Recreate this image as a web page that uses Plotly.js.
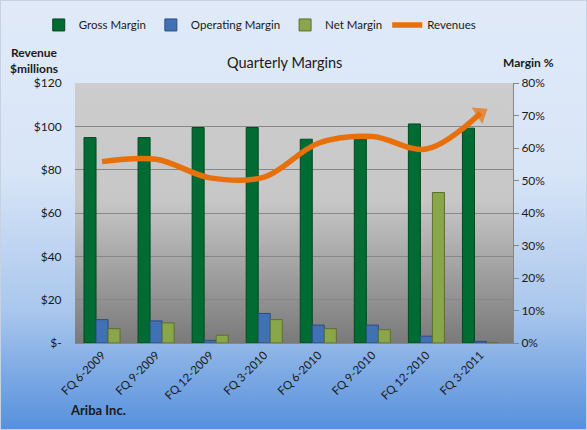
<!DOCTYPE html>
<html>
<head>
<meta charset="utf-8">
<script src="https://cdn.plot.ly/plotly-3.0.1.min.js"></script>
<style>
  html, body { margin: 0; padding: 0; }
  #wrap { position: relative; width: 587px; height: 430px;
    background: linear-gradient(to bottom, #e0eaf9 0%, #d8e5f7 40%, #aac7ed 72%, #5690dc 100%); }
  #chart { width: 587px; height: 430px; }
  #frame { position: absolute; left: 0; top: 0; width: 585px; height: 428px; border: 1px solid #c6d2e2; pointer-events: none; }
</style>
</head>
<body>
<div id="wrap"><div id="chart"></div><div id="frame"></div></div>
<script>
const quarters = ["FQ 6-2009", "FQ 9-2009", "FQ 12-2009", "FQ 3-2010", "FQ 6-2010", "FQ 9-2010", "FQ 12-2010", "FQ 3-2011"];
const grossMargin = [0.632, 0.632, 0.663, 0.663, 0.627, 0.627, 0.674, 0.661];
const operatingMargin = [0.072, 0.068, 0.008, 0.091, 0.055, 0.055, 0.021, 0.005];
const netMargin = [0.044, 0.062, 0.024, 0.072, 0.044, 0.041, 0.463, 0];
const revenues = [83.7, 84.8, 76.2, 76.6, 92.2, 95.3, 89.5, 106];
const revTickVals = [0, 20, 40, 60, 80, 100, 120];
const revTickText = ["$-", "$20", "$40", "$60", "$80", "$100", "$120"];
const marginTickVals = [0, 0.1, 0.2, 0.3, 0.4, 0.5, 0.6, 0.7, 0.8];

const FONT = "Lato, 'Open Sans', sans-serif";
const arrowSizes = revenues.map((v, i) => i === revenues.length - 1 ? 17 : 0);

const gradSvg = "<svg xmlns='http://www.w3.org/2000/svg' width='10' height='100' preserveAspectRatio='none'>" +
  "<defs><linearGradient id='g' x1='0' y1='0' x2='0' y2='1'>" +
  "<stop offset='0' stop-color='#cdcdcd'/><stop offset='0.45' stop-color='#c7c7c7'/><stop offset='1' stop-color='#7a7a7a'/>" +
  "</linearGradient></defs><rect width='10' height='100' fill='url(#g)'/></svg>";

const traces = [
  { type: "bar", name: "Gross Margin", x: quarters, y: grossMargin, yaxis: "y",
    marker: { color: "#006b33", line: { color: "#00491f", width: 1 } } },
  { type: "bar", name: "Operating Margin", x: quarters, y: operatingMargin, yaxis: "y",
    marker: { color: "#4071b5", line: { color: "#2a4d80", width: 1 } } },
  { type: "bar", name: "Net Margin", x: quarters, y: netMargin, yaxis: "y",
    marker: { color: "#8aa64a", line: { color: "#5c6f2e", width: 1 } } },
  { type: "scatter", mode: "lines+markers", name: "Revenues", x: quarters, y: revenues, yaxis: "y2",
    line: { color: "#e8700b", width: 5.5, shape: "spline", smoothing: 1 },
    marker: { symbol: "triangle-up", size: arrowSizes, color: "#e8700b", angleref: "previous", line: { width: 0 } } }
];

const layout = {
  width: 587, height: 430,
  margin: { l: 75, r: 74, t: 83, b: 87, autoexpand: false },
  paper_bgcolor: "rgba(0,0,0,0)",
  plot_bgcolor: "rgba(0,0,0,0)",
  font: { family: FONT, size: 12, color: "#1a1a1a" },
  barmode: "group", bargap: 0.333, bargroupgap: 0,
  showlegend: true,
  legend: { orientation: "h", xref: "container", yref: "container", x: 0.066, xanchor: "left", y: 0.942, yanchor: "middle",
    font: { family: FONT, size: 11.5, color: "#1a1a1a" }, bgcolor: "rgba(0,0,0,0)", traceorder: "normal" },
  title: { text: "Quarterly Margins", x: 0.485, xanchor: "center", y: 0.853, yanchor: "middle",
    font: { family: FONT, size: 14.5, color: "#1a1a1a" } },
  xaxis: { type: "category", showline: true, linecolor: "#868686", linewidth: 1, ticks: "",
    tickangle: -45, tickfont: { family: FONT, size: 11.5, color: "#1a1a1a" }, showgrid: false },
  yaxis: { side: "right", range: [0, 0.8], tickvals: marginTickVals, tickformat: ".0%",
    showgrid: false, zeroline: false, showline: true, linecolor: "#868686",
    ticks: "outside", ticklen: 5, tickcolor: "#868686",
    tickfont: { family: FONT, size: 12, color: "#1a1a1a" } },
  yaxis2: { overlaying: "y", side: "left", range: [0, 120], tickvals: revTickVals, ticktext: revTickText,
    showgrid: true, gridcolor: "#878787", gridwidth: 1, zeroline: false, showline: false,
    ticks: "outside", ticklen: 10, tickcolor: "rgba(0,0,0,0)",
    tickfont: { family: FONT, size: 12, color: "#1a1a1a" } },
  images: [{ source: "data:image/svg+xml;charset=utf-8," + encodeURIComponent(gradSvg),
    xref: "paper", yref: "paper", x: 0, y: 1, sizex: 1, sizey: 1, sizing: "stretch", layer: "below",
    xanchor: "left", yanchor: "top" }],
  annotations: [
    { text: "<b>Revenue<br>$millions</b>", xref: "paper", yref: "paper", x: -0.094, y: 1.088,
      xanchor: "center", yanchor: "middle", showarrow: false, align: "center",
      font: { family: FONT, size: 12, color: "#1a1a1a" } },
    { text: "<b>Margin %</b>", xref: "paper", yref: "paper", x: 1.036, y: 1.077,
      xanchor: "center", yanchor: "middle", showarrow: false,
      font: { family: FONT, size: 12, color: "#1a1a1a" } },
    { text: "<b>Ariba Inc.</b>", xref: "paper", yref: "paper", x: -0.016, y: -0.257,
      xanchor: "left", yanchor: "middle", showarrow: false,
      font: { family: FONT, size: 13, color: "#1a1a1a" } }
  ]
};

Plotly.newPlot("chart", traces, layout, { displayModeBar: false, staticPlot: true });
</script>
</body>
</html>
